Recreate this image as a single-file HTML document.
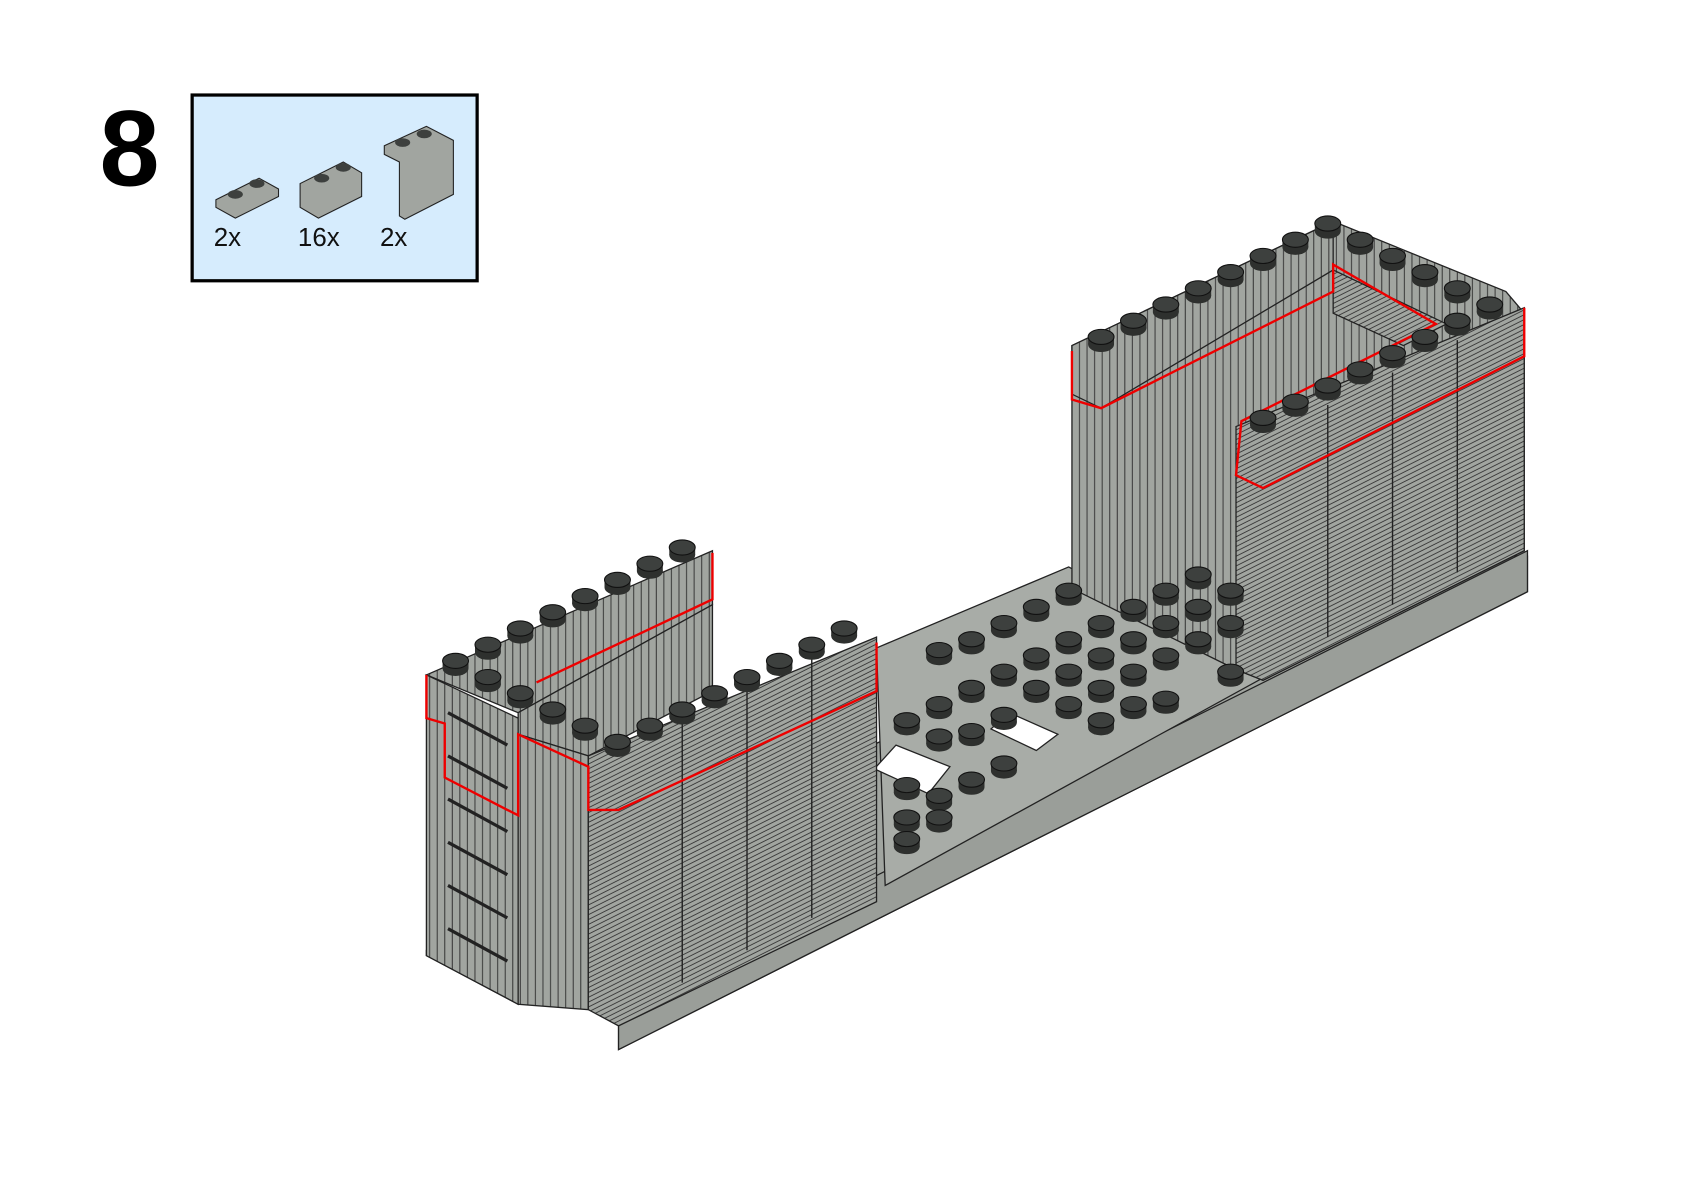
<!DOCTYPE html>
<html><head><meta charset="utf-8"><style>
html,body{margin:0;padding:0;background:#fff;}
body{width:1684px;height:1190px;overflow:hidden;position:relative;font-family:"Liberation Sans",sans-serif;}
svg{position:absolute;left:0;top:0;}
</style></head><body>
<svg width="1684" height="1190" viewBox="0 0 1560 1102" preserveAspectRatio="none">
<defs>
<pattern id="hl" width="8" height="4.5" patternUnits="userSpaceOnUse" patternTransform="skewY(-26.6)">
<rect width="8" height="4.5" fill="#a1a5a0"/><line x1="0" y1="4" x2="8" y2="4" stroke="#333" stroke-width="0.9"/></pattern>
<pattern id="vl" width="7" height="8" patternUnits="userSpaceOnUse" patternTransform="skewY(26.6)">
<rect width="7" height="8" fill="#a1a5a0"/><line x1="6" y1="0" x2="6" y2="8" stroke="#333" stroke-width="0.9"/></pattern>
<pattern id="vr" width="7" height="8" patternUnits="userSpaceOnUse" patternTransform="skewY(-26.6)">
<rect width="7" height="8" fill="#a1a5a0"/><line x1="6" y1="0" x2="6" y2="8" stroke="#333" stroke-width="0.9"/></pattern>
<g id="stud"><ellipse cx="0" cy="4" rx="12" ry="7" fill="#2e302e"/><rect x="-12" y="-3" width="24" height="7" fill="#2e302e"/><ellipse cx="0" cy="-3" rx="12" ry="7" fill="#3d403e" stroke="#111" stroke-width="1"/></g>
</defs>
<text x="120" y="172" font-size="100" font-weight="bold" text-anchor="middle" font-family="Liberation Sans, sans-serif">8</text>
<rect x="178" y="88" width="264" height="172" fill="#d6ecfd" stroke="#000" stroke-width="3"/>
<g stroke="#222" stroke-width="1" fill="#a1a5a0">
<polygon points="200,185 240,165 258,175 258,182 218,202 200,192"/>
<polygon points="278,170 318,150 335,160 335,182 295,202 278,192"/>
<polygon points="356,135 395,117 420,130 420,180 375,203 370,200 370,150 356,143"/>
</g>
<g fill="#3d403e"><ellipse cx="218" cy="180" rx="7" ry="4"/><ellipse cx="238" cy="170" rx="7" ry="4"/><ellipse cx="298" cy="165" rx="7" ry="4"/><ellipse cx="318" cy="155" rx="7" ry="4"/><ellipse cx="373" cy="132" rx="7" ry="4"/><ellipse cx="393" cy="124" rx="7" ry="4"/></g>
<g font-size="24" fill="#111"><text x="198" y="228">2x</text><text x="276" y="228">16x</text><text x="352" y="228">2x</text></g>

<g stroke="#222" stroke-width="1.2">
<!-- base plate -->
<polygon points="395,880 1200,510 1415,515 1415,548 573,972 573,930 480,930 395,885" fill="#a1a5a0"/>
<polygon points="573,930 1415,510 1415,548 573,972" fill="#9a9e99"/>
<!-- floor -->
<polygon points="812,600 990,525 1175,625 820,820" fill="#a8aca7"/>
<polygon points="830,690 880,710 860,735 810,712" fill="#fff"/>
<polygon points="935,660 980,680 960,695 918,675" fill="#fff"/>
<!-- right tower -->
<polygon points="993,320 1235,205 1395,270 1412,290 1412,510 1170,630 1145,620 993,545" fill="url(#vl)"/>
<polygon points="993,320 1235,205 1235,250 1020,378 993,365" fill="url(#vr)"/>
<polygon points="1145,395 1412,285 1412,510 1170,630 1145,620" fill="url(#hl)"/>
<polygon points="1235,250 1340,300 1300,320 1235,290" fill="url(#hl)"/>
<!-- left tower -->
<polygon points="395,625 660,510 660,560 480,660 395,625" fill="url(#vr)"/>
<polygon points="395,625 480,665 480,930 395,885" fill="url(#vl)"/>
<polygon points="480,660 660,560 660,640 545,700 480,680" fill="url(#vr)"/>
<polygon points="480,680 545,700 545,935 480,930" fill="url(#vl)"/>
<polygon points="545,700 812,590 812,835 573,950 545,935" fill="url(#hl)"/>
</g>
<g stroke="#222" stroke-width="1.3" fill="none">
<line x1="632" y1="660" x2="632" y2="910"/><line x1="692" y1="630" x2="692" y2="880"/><line x1="752" y1="605" x2="752" y2="850"/>
<line x1="1230" y1="375" x2="1230" y2="590"/><line x1="1290" y1="345" x2="1290" y2="560"/><line x1="1350" y1="315" x2="1350" y2="530"/>
<g stroke-width="3"><line x1="415" y1="660" x2="470" y2="690"/><line x1="415" y1="700" x2="470" y2="730"/><line x1="415" y1="740" x2="470" y2="770"/><line x1="415" y1="780" x2="470" y2="810"/><line x1="415" y1="820" x2="470" y2="850"/><line x1="415" y1="860" x2="470" y2="890"/></g>
</g>
<g fill="none" stroke="#e00" stroke-width="2.2">
<polyline points="395,625 395,665 412,670 412,720 470,750 480,755 480,680 545,710 545,750 573,750 812,640 812,595"/>
<polyline points="497,632 660,555 660,512"/>
<polyline points="993,325 993,370 1020,378 1235,270 1235,245 1330,300 1150,390 1145,440 1170,452 1412,330 1412,285"/>
</g>
<g>
<use href="#stud" x="422" y="615"/><use href="#stud" x="452" y="600"/><use href="#stud" x="482" y="585"/><use href="#stud" x="512" y="570"/><use href="#stud" x="542" y="555"/><use href="#stud" x="572" y="540"/><use href="#stud" x="602" y="525"/><use href="#stud" x="632" y="510"/>
<use href="#stud" x="452" y="630"/><use href="#stud" x="482" y="645"/><use href="#stud" x="512" y="660"/><use href="#stud" x="542" y="675"/><use href="#stud" x="572" y="690"/><use href="#stud" x="602" y="675"/><use href="#stud" x="632" y="660"/><use href="#stud" x="662" y="645"/><use href="#stud" x="692" y="630"/><use href="#stud" x="722" y="615"/><use href="#stud" x="752" y="600"/><use href="#stud" x="782" y="585"/>
<use href="#stud" x="1020" y="315"/><use href="#stud" x="1050" y="300"/><use href="#stud" x="1080" y="285"/><use href="#stud" x="1110" y="270"/><use href="#stud" x="1140" y="255"/><use href="#stud" x="1170" y="240"/><use href="#stud" x="1200" y="225"/><use href="#stud" x="1230" y="210"/>
<use href="#stud" x="1260" y="225"/><use href="#stud" x="1290" y="240"/><use href="#stud" x="1320" y="255"/><use href="#stud" x="1350" y="270"/><use href="#stud" x="1380" y="285"/>
<use href="#stud" x="1170" y="390"/><use href="#stud" x="1200" y="375"/><use href="#stud" x="1230" y="360"/><use href="#stud" x="1260" y="345"/><use href="#stud" x="1290" y="330"/><use href="#stud" x="1320" y="315"/><use href="#stud" x="1350" y="300"/>
<use href="#stud" x="870" y="605"/><use href="#stud" x="900" y="595"/><use href="#stud" x="930" y="580"/><use href="#stud" x="960" y="565"/><use href="#stud" x="990" y="550"/>
<use href="#stud" x="840" y="670"/><use href="#stud" x="870" y="655"/><use href="#stud" x="900" y="640"/><use href="#stud" x="930" y="625"/><use href="#stud" x="960" y="610"/><use href="#stud" x="990" y="595"/><use href="#stud" x="1020" y="580"/><use href="#stud" x="1050" y="565"/><use href="#stud" x="1080" y="550"/><use href="#stud" x="1110" y="535"/>
<use href="#stud" x="870" y="685"/><use href="#stud" x="900" y="680"/><use href="#stud" x="930" y="665"/><use href="#stud" x="960" y="640"/><use href="#stud" x="990" y="625"/><use href="#stud" x="1020" y="610"/><use href="#stud" x="1050" y="595"/><use href="#stud" x="1080" y="580"/><use href="#stud" x="1110" y="565"/><use href="#stud" x="1140" y="550"/>
<use href="#stud" x="990" y="655"/><use href="#stud" x="1020" y="640"/><use href="#stud" x="1050" y="625"/><use href="#stud" x="1080" y="610"/><use href="#stud" x="1110" y="595"/><use href="#stud" x="1140" y="580"/>
<use href="#stud" x="1020" y="670"/><use href="#stud" x="1050" y="655"/><use href="#stud" x="1080" y="650"/><use href="#stud" x="1140" y="625"/>
<use href="#stud" x="840" y="730"/><use href="#stud" x="870" y="740"/><use href="#stud" x="900" y="725"/><use href="#stud" x="930" y="710"/><use href="#stud" x="840" y="760"/><use href="#stud" x="870" y="760"/><use href="#stud" x="840" y="780"/>
</g>
</svg>
</body></html>
